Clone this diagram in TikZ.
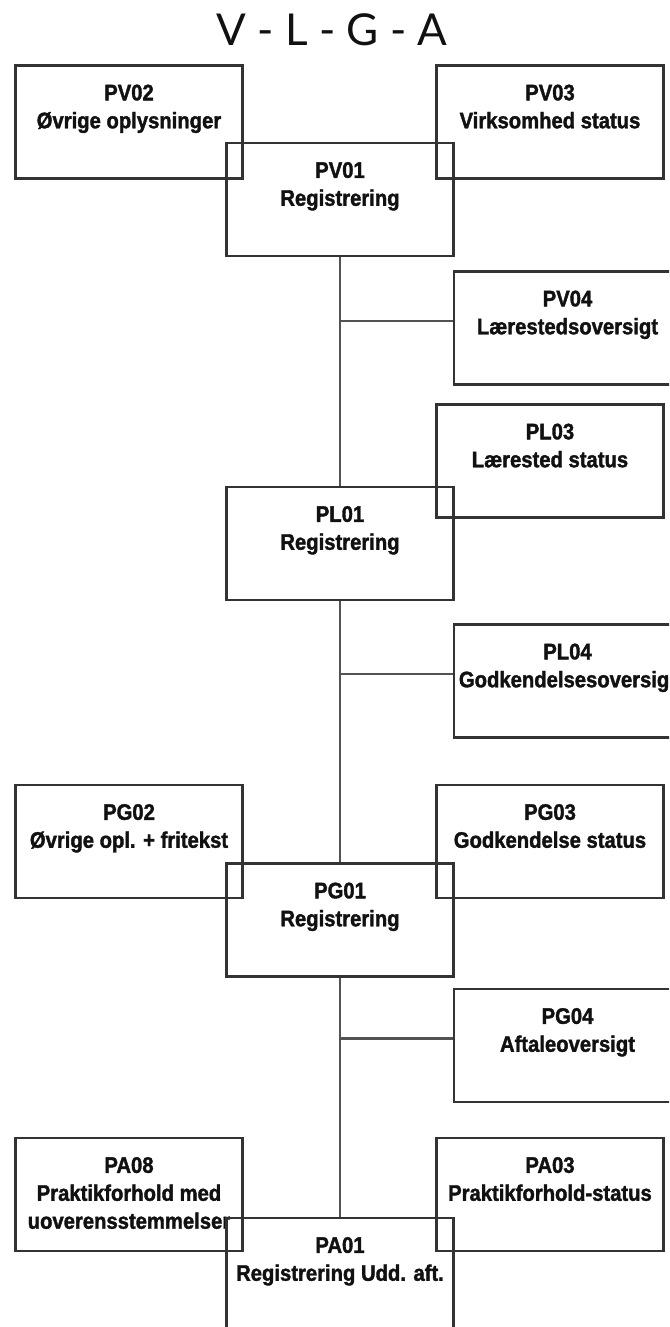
\documentclass[tikz,border=0pt]{standalone}
\usepackage{fontspec}
\usepackage{tikz}
\usetikzlibrary{positioning}
\newfontfamily\boxfont[FakeStretch=0.9,FakeBold=1.6]{Liberation Sans}
\newfontfamily\titlefont{Lato}
\definecolor{linegray}{HTML}{333333}
\definecolor{textblack}{HTML}{111111}

\begin{document}
\begin{tikzpicture}[
    box/.style={rectangle,draw=linegray,line width=1.4pt,minimum width=4.54cm,minimum height=2.26cm,inner sep=0pt,
      label={[boxtext]north:{#1}}},
    boxtext/.style={anchor=north,yshift=-0.40cm,align=center,inner sep=0pt,text=textblack,
      font=\boxfont\bfseries\fontsize{12.8}{15.9}\selectfont},
    link/.style={draw=linegray!85,line width=1.4pt},
    title/.style={anchor=base,inner sep=0pt,text=textblack,font=\titlefont\fontsize{25}{30}\selectfont}]

\useasboundingbox (0,0) rectangle (13.38,-26.54);
\clip (0,0) rectangle (13.38,-26.54);

\node[title] (vlga) at (6.64,-0.92) {V - L - G - A};

\node[box={PV02\\Øvrige oplysninger}] (pv02) at (2.58,-2.44) {};
\node[box={PV03\\Virksomhed status}] (pv03) at (11.0,-2.44) {};
\node[box={PV01\\Registrering}] (pv01) at (6.8,-3.99) {};
\node[box={PV04\\Lærestedsoversigt}] (pv04) at (11.35,-6.56) {};

\node[box={PL03\\Lærested status}] (pl03) at (11.0,-9.22) {};
\node[box={PL01\\Registrering}] (pl01) at (6.8,-10.87) {};
\node[box={PL04\\Godkendelsesoversigt}] (pl04) at (11.35,-13.62) {};

\node[box={PG02\\Øvrige opl. + fritekst}] (pg02) at (2.58,-16.83) {};
\node[box={PG03\\Godkendelse status}] (pg03) at (11.0,-16.83) {};
\node[box={PG01\\Registrering}] (pg01) at (6.8,-18.4) {};
\node[box={PG04\\Aftaleoversigt}] (pg04) at (11.35,-20.91) {};

\node[box={PA08\\Praktikforhold med\\uoverensstemmelser}] (pa08) at (2.58,-23.89) {};
\node[box={PA03\\Praktikforhold-status}] (pa03) at (11.0,-23.89) {};
\node[box={PA01\\Registrering Udd. aft.}] (pa01) at (6.8,-25.49) {};

\coordinate (tv04) at (pv01.south |- pv04.west);
\coordinate (tl04) at (pl01.south |- pl04.west);
\coordinate (tg04) at (pg01.south |- pg04.west);

\draw[link] (pv01) -- (pl01);
\draw[link] (pl01) -- (pg01);
\draw[link] (pg01) -- (pa01);

\draw[link] ([yshift=1.4mm]tv04) -- ([yshift=1.4mm]pv04.west);
\draw[link] ([yshift=1.4mm]tl04) -- ([yshift=1.4mm]pl04.west);
\draw[link] ([yshift=1.4mm]tg04) -- ([yshift=1.4mm]pg04.west);

\end{tikzpicture}
\end{document}
